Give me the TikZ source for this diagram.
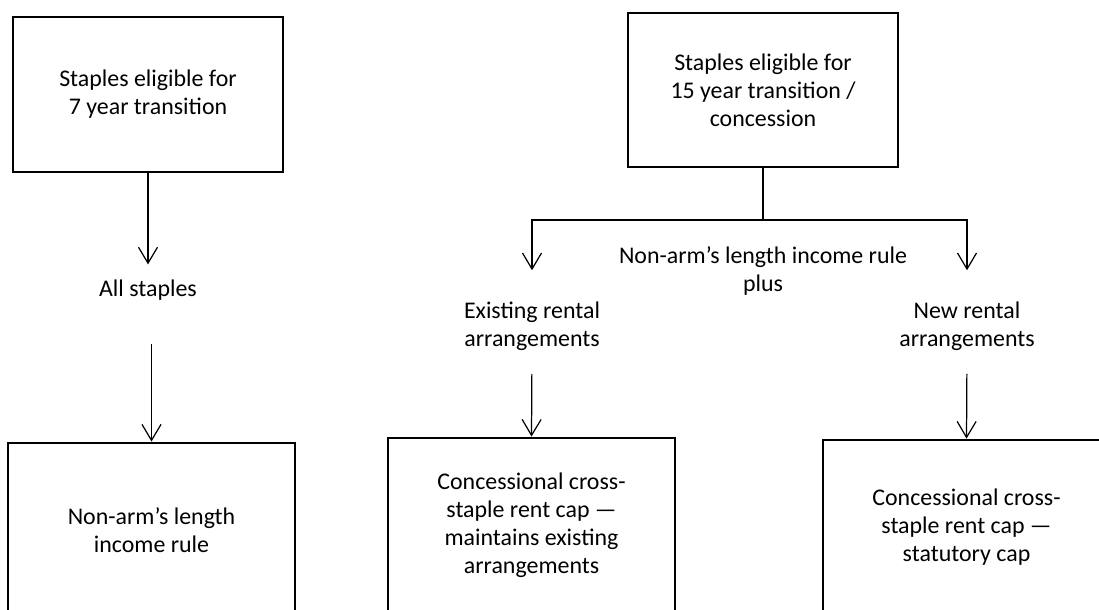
\documentclass[tikz,border=0pt]{standalone}
\usepackage{fontspec}
\setmainfont{Carlito}
\usepackage{tikz}
\usetikzlibrary{arrows.meta}
\newcommand{\FT}{\fontsize{13.6}{16}\selectfont}

\begin{document}
\begin{tikzpicture}
\tikzstyle{caja}=[draw=black,line width=1.6pt,align=center,font=\FT,inner sep=0pt]
\tikzstyle{texto}=[draw=none,fill=none,align=center,font=\FT,inner sep=0pt]
\tikzstyle{line}=[black,line width=0.7pt]
\tikzstyle{flecha}=[line,-{Straight Barb[length=3.2mm,width=3.8mm]}]

\useasboundingbox (0,0) rectangle (21.98,12.18);
\clip (0,0) rectangle (21.98,12.18);

% top boxes
\node[caja,minimum width=5.4cm,minimum height=3.1cm] (siete) at (2.96,10.29)
  {Staples eligible for\\7 year transition};
\node[caja,minimum width=5.4cm,minimum height=3.08cm] (quince) at (15.26,10.38)
  {Staples eligible for\\15 year transition /\\concession};

% middle texts
\node[texto] (todas) at (2.96,6.38) {All staples};
\node[texto] (mas) at (15.26,6.76) {Non-arm’s length income rule\\plus};
\node[texto] (exist) at (10.64,5.66) {Existing rental\\arrangements};
\node[texto] (nueva) at (19.34,5.66) {New rental\\arrangements};

% bottom boxes (run off the page)
\node[caja,minimum width=5.74cm,minimum height=3.5cm] (regla) at (3.03,1.57)
  {Non-arm’s length\\income rule};
\node[caja,minimum width=5.74cm,minimum height=3.5cm] (capa) at (10.63,1.67)
  {Concessional cross-\\staple rent cap —\\maintains existing\\arrangements};
\node[caja,minimum width=5.74cm,minimum height=3.5cm] (capb) at (19.33,1.63)
  {Concessional cross-\\staple rent cap —\\statutory cap};

\coordinate (rama) at (15.26,7.78);

% left column
\draw[flecha,shorten >=0.3cm] (siete.south) -- (siete.south |- todas.north);
\draw[flecha,shorten <=0.86cm] (regla.north |- todas.south) -- (regla.north);

% right fork
\draw[line] (quince.south) -- (rama);
\draw[flecha,shorten >=0.62cm] (rama) -| (exist.north);
\draw[flecha,shorten >=0.62cm] (rama) -| (nueva.north);
\draw[flecha,shorten <=0.46cm] (exist.south) -- (capa.north);
\draw[flecha,shorten <=0.46cm] (nueva.south) -- (capb.north);
\end{tikzpicture}
\end{document}
